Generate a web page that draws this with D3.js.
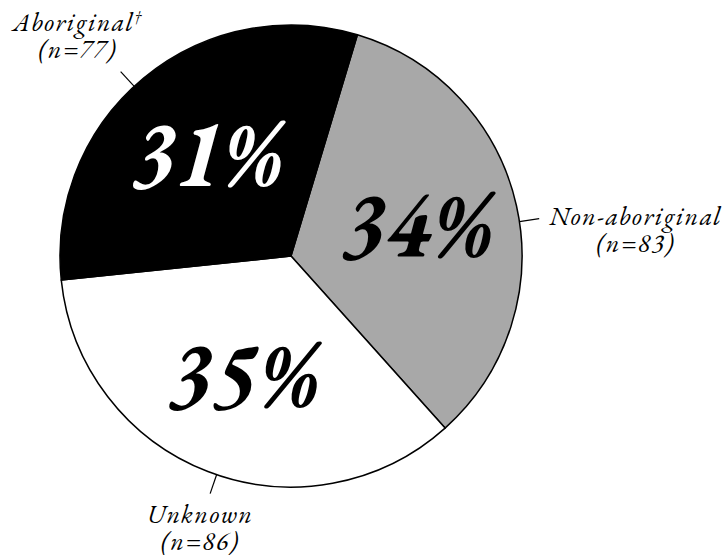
<!DOCTYPE html>
<html>
<head>
<meta charset="utf-8">
<script src="https://cdn.jsdelivr.net/npm/d3@7"></script>
<style>
  html, body { margin: 0; padding: 0; background: #fff; }
  svg { display: block; }
</style>
</head>
<body>
<svg id="chart" width="726" height="555"></svg>
<script>
// ---- data ----
const categories = ["Non-aboriginal", "Unknown", "Aboriginal"];
const superscripts = ["", "", "\u2020"];
const counts = [83, 86, 77];
const sliceColors = ["#a8a8a8", "#ffffff", "#000000"];
const pctColors = ["#000000", "#000000", "#ffffff"];

// ---- layout ----
const W = 726, H = 555;
const cx = 291, cy = 256, R = 231;
const startDeg = 16.7;
const leaderShiftDeg = [4, -2.3, -3.1];   // hand placement of the leader lines
const FONT = '"EB Garamond", "Liberation Serif", serif';

const svg = d3.select("#chart");
const g = svg.append("g").attr("transform", `translate(${cx},${cy})`);

const total = d3.sum(counts);
const data = categories.map((c, i) => ({ name: c, sup: superscripts[i], n: counts[i], fill: sliceColors[i], pc: pctColors[i], shift: leaderShiftDeg[i] }));

const start = startDeg * Math.PI / 180;
const pie = d3.pie().sort(null).value(d => d.n).startAngle(start).endAngle(start + 2 * Math.PI);
const arcs = pie(data);

const arc = d3.arc().innerRadius(0).outerRadius(R);
g.selectAll("path.slice").data(arcs).join("path")
  .attr("class", "slice")
  .attr("d", arc)
  .attr("fill", d => d.data.fill)
  .attr("stroke", "#000")
  .attr("stroke-width", 1.5)
  .attr("stroke-linejoin", "round");

// percentage labels
const labelArc = d3.arc().innerRadius(130).outerRadius(130);
g.selectAll("text.pct").data(arcs).join("text")
  .attr("class", "pct")
  .attr("transform", d => { const [x, y] = labelArc.centroid(d); return `translate(${x},${y}) scale(0.88,1)`; })
  .attr("text-anchor", "middle")
  .attr("dy", "0.31em")
  .attr("font-family", FONT)
  .attr("font-style", "italic")
  .attr("font-weight", "bold")
  .attr("font-size", 96)
  .attr("fill", d => d.data.pc)
  .text(d => Math.round(d.data.n / total * 100) + "%");

// leader lines
const ang = d => (d.startAngle + d.endAngle) / 2 + d.data.shift * Math.PI / 180;
const pt = (a, r) => [r * Math.sin(a), -r * Math.cos(a)];
g.selectAll("line.leader").data(arcs).join("line")
  .attr("class", "leader")
  .attr("x1", d => pt(ang(d), R)[0])
  .attr("y1", d => pt(ang(d), R)[1])
  .attr("x2", d => pt(ang(d), R + 20)[0])
  .attr("y2", d => pt(ang(d), R + 20)[1])
  .attr("stroke", "#000")
  .attr("stroke-width", 1.2);

// outer category labels
arcs.forEach(d => {
  const a = ang(d);
  const [ex, ey] = pt(a, R + 20);
  const s = Math.sin(a), c = Math.cos(a);
  const t = g.append("text")
    .attr("font-family", FONT)
    .attr("font-style", "italic")
    .attr("font-size", 26)
    .attr("letter-spacing", 1.4)
    .attr("text-anchor", "middle")
    .attr("fill", "#000");
  const l1 = t.append("tspan").text(d.data.name);
  if (d.data.sup) l1.append("tspan").attr("font-size", 17).attr("dy", -9).text(d.data.sup);
  const l2 = t.append("tspan").text(`(n=${d.data.n})`);
  const w = l1.node().getComputedTextLength();
  let x, y1;
  if (s > 0.7) {           // right side
    x = ex + 10 + w / 2; y1 = ey + 6;
  } else if (c < -0.7) {   // bottom
    x = ex - 10; y1 = ey + 29;
  } else {                 // upper left
    x = ex - 43; y1 = ey - 41;
  }
  l1.attr("x", x).attr("y", y1);
  l2.attr("x", x).attr("y", y1 + 27);
});
</script>
</body>
</html>
